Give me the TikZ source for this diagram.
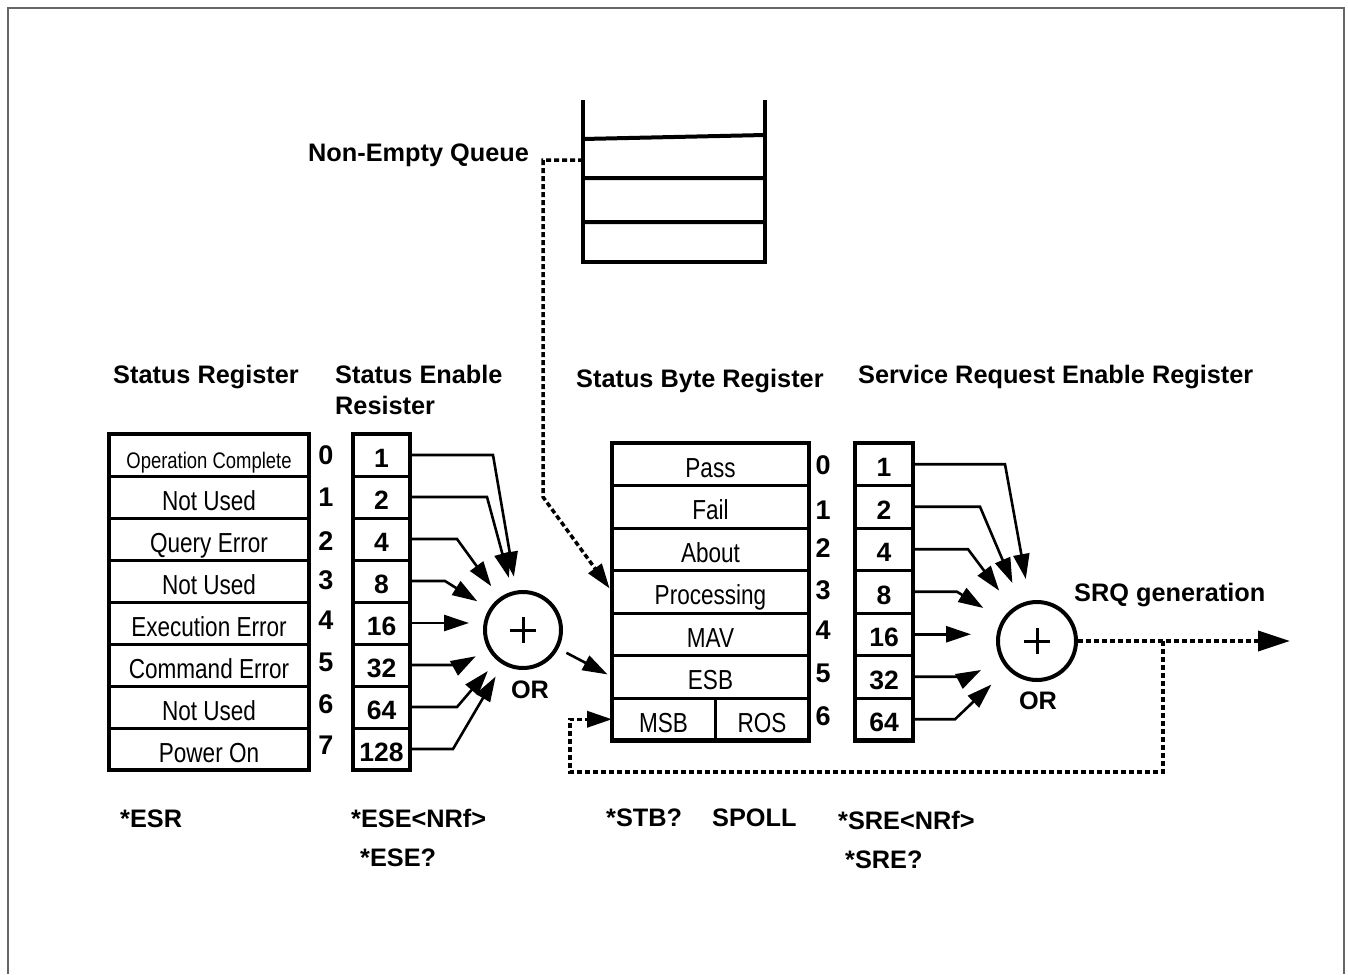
\documentclass[tikz,border=0pt]{standalone}
\usepackage{fontspec}
\setmainfont{Liberation Sans}
\newfontfamily\narrowsf[FakeStretch=0.82]{Liberation Sans}
\usetikzlibrary{arrows.meta}
\newcommand{\hdfont}{\fontsize{25.3}{31}\selectfont\bfseries}
\newcommand{\cellfont}{\fontsize{27.5}{32}\selectfont\narrowsf}
\newcommand{\bitfont}{\fontsize{27}{30}\selectfont\bfseries}
\newcommand{\numfont}{\fontsize{26.5}{30}\selectfont\bfseries}
\begin{document}
\begin{tikzpicture}[x=1pt,y=1pt,>={Triangle[length=25pt,width=16pt]},
	cell/.style={draw,line width=3pt,outer sep=0pt,inner sep=0pt,text height=28pt,text depth=2pt,font=\cellfont},
	numcell/.style={cell,text height=26pt,text depth=1pt,font=\numfont},
	frame/.style={line width=4.5pt},
	hd/.style={anchor=base west,inner sep=0pt,font=\hdfont},
	bit/.style={inner sep=0pt,font=\bitfont},
	conn/.style={->,line width=2.6pt},
	dots/.style={line width=3.5pt,dash pattern=on 5pt off 3pt},
	gate/.style={draw,circle,line width=4pt,minimum size=76pt,inner sep=0pt}]
		\useasboundingbox (0,0) rectangle (1348,-974);
		\draw[gray!80!black,line width=2pt] (8,-974) -- (8,-8) -- (1344,-8) -- (1344,-974);
		% queue
		\draw[line width=4pt] (583,-100) -- (583,-262) -- (765,-262) -- (765,-100);
		\draw[line width=4pt] (583,-139) -- (765,-135) (583,-178) -- (765,-178) (583,-222) -- (765,-222);
		\coordinate (qin) at (583,-160);
		\coordinate (qbend) at (543,-497);
		\node[hd] (neq) at (308,-161) {Non-Empty Queue};
		% status register
		\foreach \t [count=\i from 0] in {{\fontsize{22.5}{26}\selectfont Operation Complete},Not Used,Query Error,Not Used,Execution Error,Command Error,Not Used,Power On}{
			\node[cell,minimum width=200pt,minimum height=42pt] (sr\i) at (209,-455-42*\i) {\t};
		}
		\draw[frame] (sr0.north west) rectangle (sr7.south east);
		\foreach \y [count=\i from 0] in {455,497,541,580,620,662,704,745}{
			\node[bit] (srb\i) at (326,-\y) {\i};
		}
		% status enable register
		\foreach \v [count=\i from 0] in {1,2,4,8,16,32,64,128}{
			\node[numcell,minimum width=57pt,minimum height=42pt] (se\i) at (381.5,-455-42*\i) {\v};
		}
		\draw[frame] (se0.north west) rectangle (se7.south east);
		\node[gate] (or1) at (523,-630) {};
		\draw[line width=3pt] (or1) ++(-13,0) -- ++(26,0) (or1) ++(0,-13) -- ++(0,26);
		\node[hd,anchor=center] (or1t) at (530,-690) {OR};
		\foreach \i/\d in {0/83,1/77,2/47,3/35,5/50,6/47,7/43}{
			\draw[conn,shorten >=14pt] (se\i.east) -- ++(\d,0) -- (or1);
		}
		\draw[conn,shorten >=14pt] (se4.east) -- (se4.east -| or1.west);
		% status byte register
		\foreach \t [count=\i from 0] in {Pass,Fail,About,Processing,MAV,ESB}{
			\node[cell,minimum width=197pt,minimum height=42.5pt] (sb\i) at (710.5,-464.25-42.5*\i) {\t};
		}
		\node[cell,minimum width=103pt,minimum height=42.5pt] (msb) at (663.5,-719.25) {MSB};
		\node[cell,minimum width=94pt,minimum height=42.5pt] (ros) at (762,-719.25) {ROS};
		\draw[frame] (sb0.north west) rectangle (ros.south east);
		\foreach \y [count=\i from 0] in {465,510,548,590,630,673,716}{
			\node[bit] (sbb\i) at (823,-\y) {\i};
		}
		\draw[conn,shorten <=9pt,shorten >=5pt] (or1) -- (sb5.west);
		\draw[dots,->,shorten >=4pt] (qin) -- (qbend |- qin) -- (qbend) -- (sb3.west);
		% service request enable register
		\foreach \v [count=\i from 0] in {1,2,4,8,16,32,64}{
			\node[numcell,minimum width=58pt,minimum height=42.5pt] (sre\i) at (884,-464.25-42.5*\i) {\v};
		}
		\draw[frame] (sre0.north west) rectangle (sre6.south east);
		\node[gate,minimum size=78pt] (or2) at (1037,-641) {};
		\draw[line width=3pt] (or2) ++(-13,0) -- ++(26,0) (or2) ++(0,-13) -- ++(0,26);
		\node[hd,anchor=center] (or2t) at (1038,-701) {OR};
		\foreach \i/\d in {0/92,1/67,2/55,3/44,5/55,6/42}{
			\draw[conn,shorten >=22pt] (sre\i.east) -- ++(\d,0) -- (or2);
		}
		\draw[conn,shorten >=25pt] (sre4.east) -- (sre4.east -| or2.west);
		% SRQ output and feedback
		\coordinate (srq) at (1290,-641);
		\coordinate (jn) at (1163,-641);
		\coordinate (fb) at (570,-772);
		\draw[dots,->,>={Triangle[length=32pt,width=20pt]}] (or2) -- (srq);
		\draw[dots,->] (jn) |- (fb) |- (msb.west);
		\node[hd] (srqt) at (1074,-601) {SRQ generation};
		% headings
		\node[hd] (srh) at (113,-383) {Status Register};
		\node[hd] (seh) at (335,-383) {Status Enable};
		\node[hd] (seh2) at (335,-414) {Resister};
		\node[hd] (sbh) at (576,-387) {Status Byte Register};
		\node[hd] (sreh) at (858,-383) {Service Request Enable Register};
		% commands
		\node[hd] (esr) at (120,-827) {*ESR};
		\node[hd] (ese) at (351,-827) {*ESE<NRf>};
		\node[hd] (eseq) at (360,-866) {*ESE?};
		\node[hd] (stb) at (606,-826) {*STB?};
		\node[hd] (spoll) at (712,-826) {SPOLL};
		\node[hd] (sre) at (838,-829) {*SRE<NRf>};
		\node[hd] (sreq) at (845,-868) {*SRE?};
\end{tikzpicture}
\end{document}
